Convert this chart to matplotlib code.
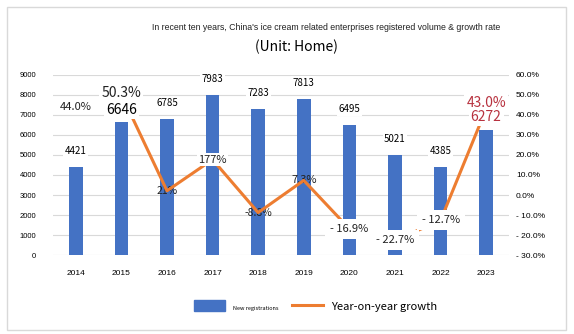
"""Ice cream enterprise registrations and YoY growth - bar + line combo"""

import matplotlib.pyplot as plt
from matplotlib.patches import Rectangle, Patch
from matplotlib.lines import Line2D

# data
years = ['2014', '2015', '2016', '2017', '2018', '2019', '2020', '2021', '2022', '2023']
registrations = [4421, 6646, 6785, 7983, 7283, 7813, 6495, 5021, 4385, 6272]
growth = [44.0, 50.3, 2.1, 17.7, -8.8, 7.3, -16.9, -22.7, -12.7, 43.0]
growth_labels = ['44.0%', '50.3%', '21%', '177%', '-8.8%', '7.3%',
                 '- 16.9%', '- 22.7%', '- 12.7%', '43.0%']
left_ticks = [0, 1000, 2000, 3000, 4000, 5000, 6000, 7000, 8000, 9000]
right_ticks = [-30, -20, -10, 0, 10, 20, 30, 40, 50, 60]
right_tick_labels = ['- 30.0%', '- 20.0%', '- 10.0%', '0.0%', '10.0%', '20.0%',
                     '30.0%', '40.0%', '50.0%', '60.0%']

blue = '#4472C4'
orange = '#ED7D31'
red = '#B8323F'
lab_font = ['Noto Sans CJK SC', 'DejaVu Sans']
tick_font = ['Liberation Sans Narrow', 'Liberation Sans', 'DejaVu Sans']

fig = plt.figure(figsize=(5.74, 3.34), dpi=100)
fig.patches.append(Rectangle((0.0122, 0.012), 0.974, 0.967, transform=fig.transFigure,
                             fill=False, ec='#D9D9D9', lw=1.0))

ax = fig.add_axes([0.0923, 0.2365, 0.7944, 0.539])
ax2 = ax.twinx()

x = list(range(len(years)))
ax.bar(x, registrations, width=0.3, color=blue, zorder=2)
ax.set_xlim(-0.5, len(years) - 0.5)
ax.set_ylim(0, 9000)
ax.set_yticks(left_ticks)
ax.set_yticklabels([str(t) for t in left_ticks], fontsize=5.5, family=tick_font)
ax.set_xticks(x)
ax.set_xticklabels(years, fontsize=6, family=tick_font)
ax.grid(axis='y', color='#D9D9D9', lw=0.8, zorder=0)
ax.set_axisbelow(True)
ax.tick_params(axis='x', length=0, pad=11)
ax.tick_params(axis='y', length=0, pad=12)
for s in ax.spines.values():
    s.set_visible(False)

# growth line starts at 2015
ax2.plot(x[1:], growth[1:], color=orange, lw=2.2, solid_capstyle='round', zorder=2)
ax2.set_ylim(-30, 60)
ax2.set_yticks(right_ticks)
ax2.set_yticklabels(right_tick_labels, fontsize=6, family=tick_font)
ax2.tick_params(axis='y', length=0, pad=5)
for s in ax2.spines.values():
    s.set_visible(False)

box = dict(boxstyle='square,pad=0.15', fc='white', ec='none')
wide_box = dict(boxstyle='square,pad=0.45', fc='white', ec='none')

# bar value labels
for i, v in enumerate(registrations):
    big = i == 1 or i == 9
    ax2.annotate(str(v), xy=(i, v), xycoords=ax.transData, xytext=(0, 11.5 if not big else 9),
                 textcoords='offset points', ha='center', va='center',
                 fontsize=10 if big else 7, family=lab_font,
                 color=red if i == 9 else 'black', bbox=box, zorder=4)

# growth labels
for i, (g, t) in enumerate(zip(growth, growth_labels)):
    if i in (1, 9):
        fs = 10
    elif i in (2, 4):
        fs = 7.5
    else:
        fs = 8
    under = i in (2, 4, 5)
    dy = 0
    if i == 1:
        dy = 1
    if i == 9:
        dy = 4
    b = wide_box if i in (6, 7, 8) else box
    ax2.annotate(t, xy=(i, g), xytext=(0, dy), textcoords='offset points',
                 ha='center', va='center', fontsize=fs, family=lab_font,
                 color=red if i == 9 else '#222222',
                 bbox=None if under else b, zorder=1 if under else 3)

fig.text(0.568, 0.919, "In recent ten years, China's ice cream related enterprises registered volume & growth rate",
         ha='center', va='center', fontsize=6.3, family=tick_font, color='#222222')
fig.text(0.517, 0.859, '(Unit: Home)', ha='center', va='center', fontsize=10,
         family=lab_font, color='black')

handles = [Patch(color=blue), Line2D([], [], color=orange, lw=2.2)]
leg = fig.legend(handles, ['New registrations', 'Year-on-year growth'],
                 loc='center', bbox_to_anchor=(0.55, 0.084), ncol=2, frameon=False,
                 handlelength=2.2, handleheight=0.9, columnspacing=1.0, handletextpad=0.6)
leg.get_texts()[0].set_fontsize(4)
leg.get_texts()[1].set_fontsize(8)
for t in leg.get_texts():
    t.set_family(lab_font)

plt.savefig('out.png', dpi=100)
